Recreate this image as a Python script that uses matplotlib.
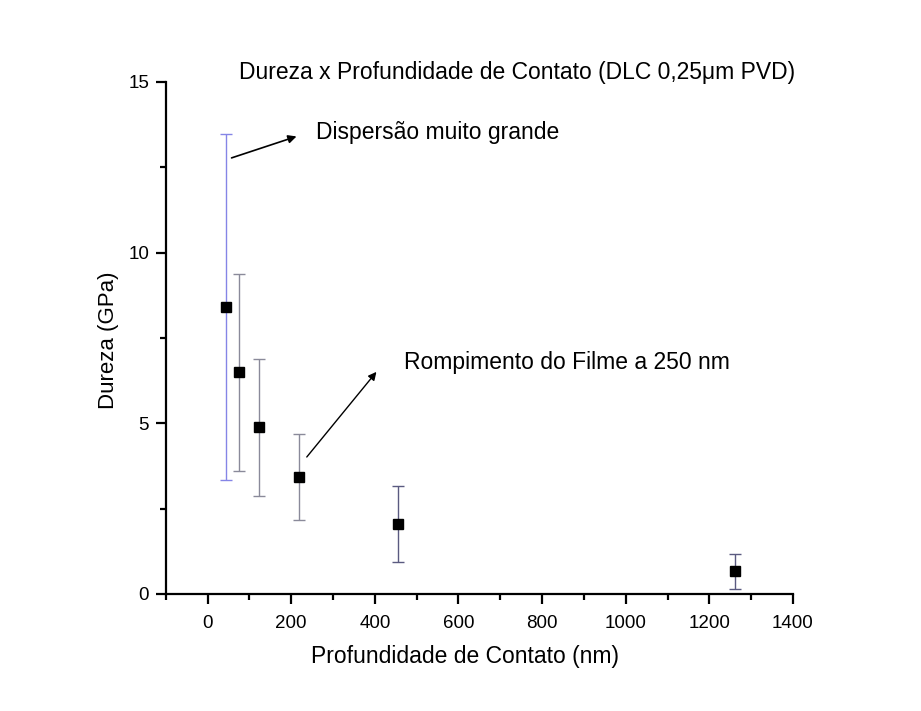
import matplotlib
matplotlib.use('agg')
import matplotlib.pyplot as plt
from matplotlib.ticker import MultipleLocator

# hardness vs contact depth
profundidade = [45, 75, 124, 219, 455, 1262]
dureza = [8.41, 6.49, 4.88, 3.44, 2.05, 0.66]
erro = [5.07, 2.88, 2.00, 1.26, 1.12, 0.50]
cor_haste = ['#8585e6', '#8a8a9a', '#8a8a9a', '#8a8a9a', '#5a5a80', '#5a5a80']

titulo = 'Dureza x Profundidade de Contato (DLC 0,25\u03bcm PVD)'
nota1 = 'Dispers\u00e3o muito grande'
nota2 = 'Rompimento do Filme a 250 nm'

plt.rcParams['font.family'] = ['Liberation Sans', 'DejaVu Sans']

fig = plt.figure(figsize=(9.21, 7.11), dpi=100)
ax = fig.add_axes([0.180, 0.1646, 0.681, 0.7201])

for x, y, e, c in zip(profundidade, dureza, erro, cor_haste):
    eb = ax.errorbar([x], [y], yerr=[e], fmt='none', ecolor=c, elinewidth=1.0,
                     capsize=4.3, capthick=1.0)
    for cap in eb[1]:
        cap.set_color('#6a6ad0')
ax.plot(profundidade, dureza, 's', color='black', markersize=6.6, zorder=5)

ax.set_xlim(-100, 1400)
ax.set_ylim(0, 15)
ax.xaxis.set_major_locator(MultipleLocator(200))
ax.xaxis.set_minor_locator(MultipleLocator(100))
ax.yaxis.set_major_locator(MultipleLocator(5))
ax.yaxis.set_minor_locator(MultipleLocator(2.5))
ax.spines['top'].set_visible(False)
ax.spines['right'].set_visible(False)
ax.spines['left'].set_linewidth(1.6)
ax.spines['bottom'].set_linewidth(1.6)
ax.tick_params(which='major', direction='out', length=7, width=1.6, labelsize=13.5)
ax.tick_params(which='minor', direction='out', length=4, width=1.6)
ax.tick_params(axis='x', which='major', pad=8)
ax.tick_params(axis='y', which='major', pad=5)

ax.set_xlabel('Profundidade de Contato (nm)', fontsize=16.5, va='center')
ax.xaxis.set_label_coords(0.477, -0.123)
ax.set_ylabel('Dureza (GPa)', fontsize=16, va='center')
ax.yaxis.set_label_coords(-0.092, 0.495)

fig.text(517 / 921, 1 - 73 / 711, titulo, fontsize=16.5, ha='center', va='center')

ax.annotate('', xy=(219, 13.43), xytext=(51, 12.75),
            arrowprops=dict(arrowstyle='-|>', color='black', lw=1.2, mutation_scale=12))
ax.text(259, 13.52, nota1, fontsize=16.5, ha='left', va='center')

ax.annotate('', xy=(408, 6.57), xytext=(233, 3.95),
            arrowprops=dict(arrowstyle='-|>', color='black', lw=1.0, mutation_scale=12))
ax.text(470, 6.77, nota2, fontsize=16.5, ha='left', va='center')

plt.savefig('out.png', dpi=100)
plt.close('all')
